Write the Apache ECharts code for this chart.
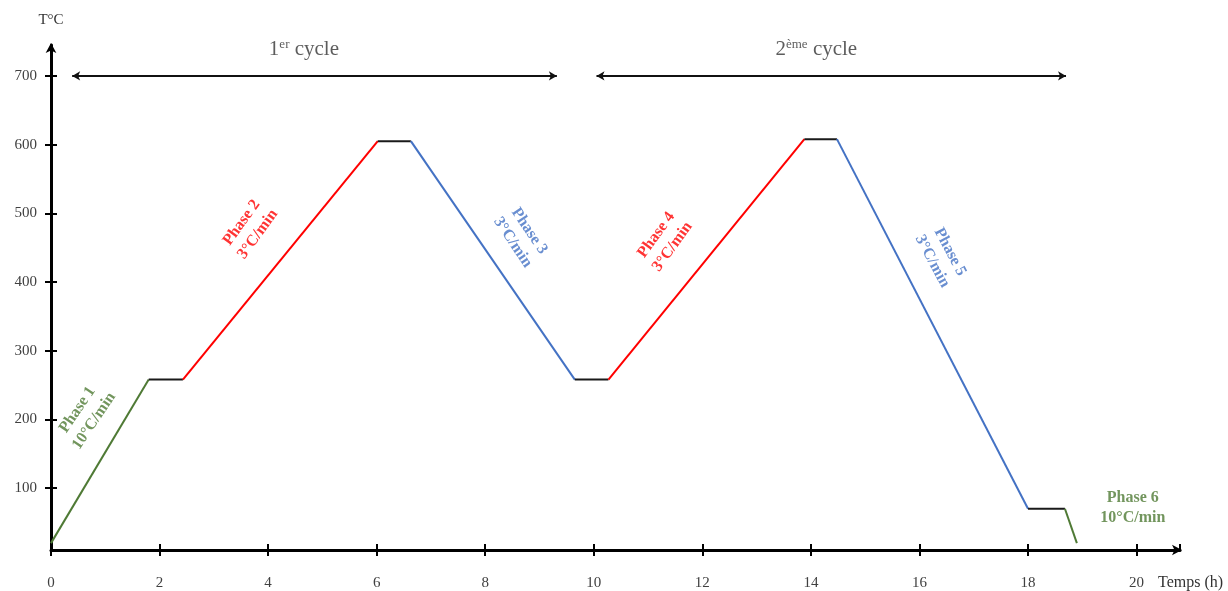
<!DOCTYPE html>
<html>
<head>
<meta charset="utf-8">
<script src="https://cdn.jsdelivr.net/npm/echarts@6/dist/echarts.min.js"></script>
<style>html,body{margin:0;padding:0;background:#fff}#c{width:1228px;height:591px}</style>
</head>
<body>
<div id="c"></div>
<script>
// Profile points (time in h, temperature in °C)
const times = [0, 1.8, 2.43, 6.02, 6.63, 9.65, 10.27, 13.88, 14.48, 18.0, 18.68, 18.9];
const temps = [20, 258, 258, 605, 605, 258, 258, 608, 608, 70, 70, 20];
// Kind of each segment between consecutive points
const segmentKinds = ['p1','hold','p2','hold','p3','hold','p4','hold','p5','hold','p6'];
const yTicks = [100, 200, 300, 400, 500, 600, 700];
const phaseLabels = ['Phase 1\n10°C/min','Phase 2\n3°C/min','Phase 3\n3°C/min','Phase 4\n3°C/min','Phase 5\n3°C/min','Phase 6\n10°C/min'];
const cycleLabels = ['1er cycle', '2ème cycle'];

const colors = {p1:'#4f7a35', p6:'#4f7a35', p2:'#ff0000', p4:'#ff0000', p3:'#4472c4', p5:'#4472c4', hold:'#1a1a1a'};
const serif = '"Liberation Serif", "DejaVu Serif", serif';

const series = [];
segmentKinds.forEach((k, i) => {
  series.push({
    type: 'line', xAxisIndex: 0, yAxisIndex: 0, silent: true, symbol: 'none',
    lineStyle: {color: colors[k], width: 2},
    data: [[times[i], temps[i]], [times[i+1], temps[i+1]]],
    z: 3
  });
});

// Phase annotations anchored in data coordinates
const phaseAnchors = [
  {pos:[0.64, 206], rot:56, c:colors.p1},
  {pos:[3.66, 478], rot:54, c:colors.p2},
  {pos:[8.66, 466], rot:-56, c:colors.p3},
  {pos:[11.3, 460], rot:54, c:colors.p4},
  {pos:[16.4, 437], rot:-62, c:colors.p5},
  {pos:[19.93, 71], rot:0, c:colors.p6}
];
series.push({
  type: 'scatter', silent: true, symbolSize: 0, z: 5,
  data: phaseAnchors.map((a, i) => ({
    value: a.pos,
    label: {
      show: true, position: 'inside', rotate: a.rot,
      formatter: phaseLabels[i], color: a.c,
      fontFamily: serif, fontWeight: 'bold', fontSize: 16, lineHeight: 20, align: 'center', verticalAlign: 'middle'
    }
  }))
});
// Cycle labels
const cycleAnchors = [[4.66, 738], [14.1, 738]];
series.push({
  type: 'scatter', silent: true, symbolSize: 0, z: 5,
  data: cycleAnchors.map((p, i) => ({
    value: p,
    label: {
      show: true, position: 'inside',
      formatter: i === 0 ? '1{sup|er} cycle' : '2{sup|ème} cycle',
      color: '#333', fontFamily: serif, fontSize: 21,
      rich: {sup: {fontSize: 13, verticalAlign: 'top', padding:[0,0,10,0], color:'#333', fontFamily: serif}}
    }
  }))
});
// Cycle arrows
series.push({
  type: 'line', silent: true, data: [], symbol: 'none',
  markLine: {
    silent: true, symbol: ['arrow','arrow'], symbolSize: [7, 8],
    label: {show: false},
    lineStyle: {color: '#111', width: 2, type: 'solid'},
    data: [
      [{coord: [0.39, 700]}, {coord: [9.32, 700]}],
      [{coord: [10.05, 700]}, {coord: [18.7, 700]}]
    ]
  }
});

const xMin = 0, xMax = 20.8, yMin = 10, yMax = 745;
const axisLabelStyle = {color: '#404040', fontFamily: serif, fontSize: 15};

const option = {
  animation: false,
  backgroundColor: '#fff',
  grid: {left: 51, right: 48, top: 45, bottom: 41, containLabel: false, outerBoundsMode: 'none'},
  xAxis: [
    {
      type: 'value', min: xMin, max: xMax, interval: 2, position: 'bottom',
      splitLine: {show: false},
      axisLine: {show: true, lineStyle: {color: '#000', width: 3}, symbol: ['none', 'arrow'], symbolSize: [8, 10], symbolOffset: [0, 2]},
      axisTick: {show: true, length: 6, lineStyle: {color: '#000', width: 2}},
      axisLabel: Object.assign({margin: 26, showMaxLabel: false, formatter: v => (v > 20 ? '' : v)}, axisLabelStyle),
      name: 'Temps (h)', nameLocation: 'end', nameGap: 6,
      nameTextStyle: {color: '#333', fontFamily: serif, fontSize: 16, verticalAlign: 'top', align: 'left', padding: [25, 0, 0, -28]}
    },
    {
      type: 'value', min: xMin, max: xMax, interval: 2, position: 'bottom',
      splitLine: {show: false}, axisLine: {show: false},
      axisTick: {show: true, inside: true, length: 6, lineStyle: {color: '#000', width: 2}},
      axisLabel: {show: false}
    }
  ],
  yAxis: [
    {
      type: 'value', min: yMin, max: yMax, position: 'left',
      splitLine: {show: false},
      axisLine: {show: true, lineStyle: {color: '#000', width: 3}, symbol: ['none', 'arrow'], symbolSize: [8, 10], symbolOffset: [0, 2]},
      axisTick: {show: true, length: 6, lineStyle: {color: '#000', width: 2}, customValues: yTicks},
      axisLabel: Object.assign({margin: 14, customValues: yTicks}, axisLabelStyle),
      name: 'T°C', nameLocation: 'end', nameGap: 17,
      nameTextStyle: {color: '#333', fontFamily: serif, fontSize: 15, align: 'center'}
    },
    {
      type: 'value', min: yMin, max: yMax, position: 'left',
      splitLine: {show: false}, axisLine: {show: false},
      axisTick: {show: true, inside: true, length: 6, lineStyle: {color: '#000', width: 2}, customValues: yTicks},
      axisLabel: {show: false, customValues: yTicks}
    }
  ],
  series: series
};

const chart = echarts.init(document.getElementById('c'), null, {renderer: 'canvas'});
chart.setOption(option);
</script>
</body>
</html>
